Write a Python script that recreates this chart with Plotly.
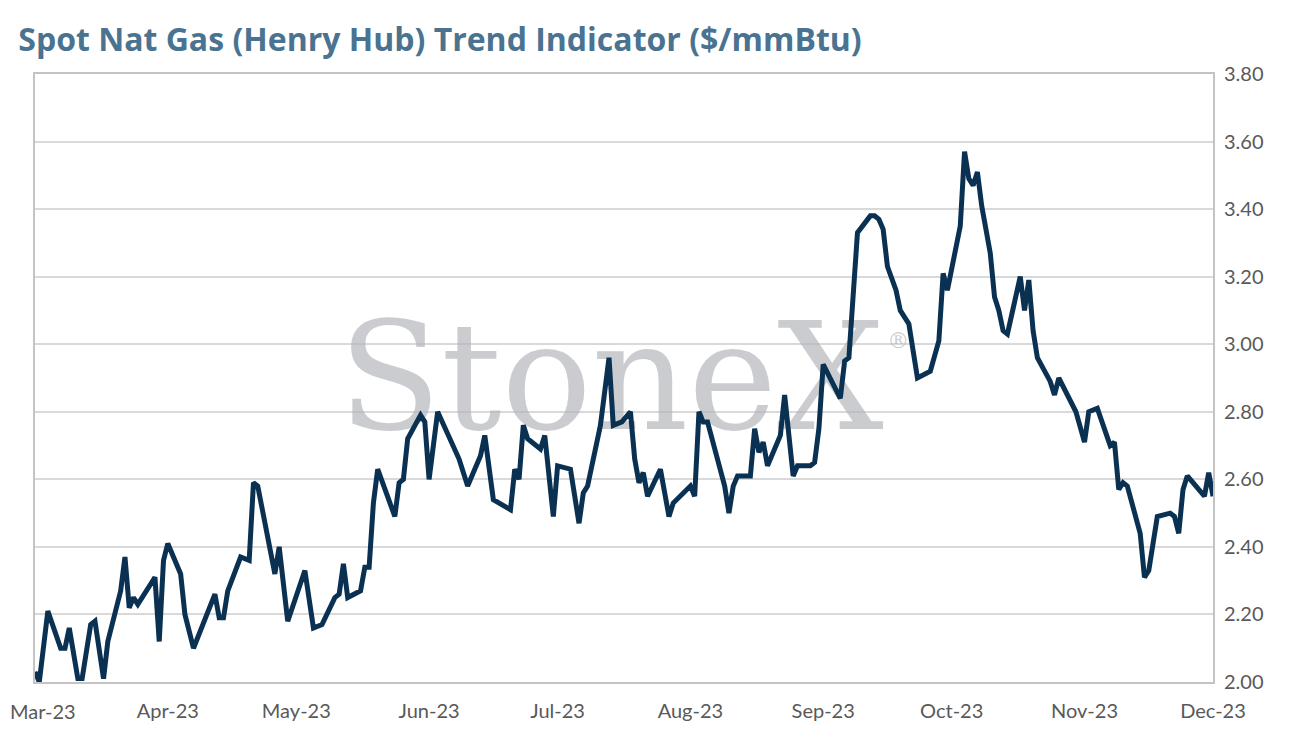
import plotly.graph_objects as go

# Henry Hub spot price
dates = [
    "2023-03-01", "2023-03-02", "2023-03-04", "2023-03-07", "2023-03-08", "2023-03-09",
    "2023-03-11", "2023-03-12", "2023-03-14", "2023-03-15", "2023-03-17", "2023-03-18",
    "2023-03-21", "2023-03-22", "2023-03-23", "2023-03-24", "2023-03-25", "2023-03-27",
    "2023-03-29", "2023-03-30", "2023-03-31", "2023-04-01", "2023-04-04", "2023-04-05",
    "2023-04-07", "2023-04-12", "2023-04-13", "2023-04-14", "2023-04-15", "2023-04-18",
    "2023-04-20", "2023-04-21", "2023-04-22", "2023-04-26", "2023-04-27", "2023-04-29",
    "2023-05-03", "2023-05-05", "2023-05-07", "2023-05-10", "2023-05-11", "2023-05-12",
    "2023-05-13", "2023-05-16", "2023-05-17", "2023-05-18", "2023-05-19", "2023-05-20",
    "2023-05-24", "2023-05-25", "2023-05-26", "2023-05-27", "2023-05-30", "2023-05-31",
    "2023-06-01", "2023-06-03", "2023-06-08", "2023-06-10", "2023-06-13", "2023-06-14",
    "2023-06-16", "2023-06-20", "2023-06-21", "2023-06-22", "2023-06-23", "2023-06-24",
    "2023-06-27", "2023-06-28", "2023-06-30", "2023-07-01", "2023-07-04", "2023-07-06",
    "2023-07-07", "2023-07-08", "2023-07-11", "2023-07-13", "2023-07-14", "2023-07-16",
    "2023-07-18", "2023-07-19", "2023-07-20", "2023-07-21", "2023-07-22", "2023-07-25",
    "2023-07-27", "2023-07-28", "2023-07-31", "2023-08-01", "2023-08-02", "2023-08-03",
    "2023-08-04", "2023-08-05", "2023-08-09", "2023-08-10", "2023-08-11", "2023-08-12",
    "2023-08-15", "2023-08-16", "2023-08-17", "2023-08-18", "2023-08-19", "2023-08-22",
    "2023-08-23", "2023-08-25", "2023-08-26", "2023-08-29", "2023-08-30", "2023-08-31",
    "2023-09-01", "2023-09-05", "2023-09-06", "2023-09-07", "2023-09-09", "2023-09-12",
    "2023-09-13", "2023-09-14", "2023-09-15", "2023-09-16", "2023-09-18", "2023-09-19",
    "2023-09-21", "2023-09-23", "2023-09-26", "2023-09-28", "2023-09-29", "2023-09-30",
    "2023-10-03", "2023-10-04", "2023-10-05", "2023-10-06", "2023-10-07", "2023-10-08",
    "2023-10-10", "2023-10-11", "2023-10-12", "2023-10-13", "2023-10-14", "2023-10-17",
    "2023-10-18", "2023-10-19", "2023-10-20", "2023-10-21", "2023-10-24", "2023-10-25",
    "2023-10-26", "2023-10-30", "2023-11-01", "2023-11-02", "2023-11-04", "2023-11-07",
    "2023-11-08", "2023-11-09", "2023-11-10", "2023-11-11", "2023-11-14", "2023-11-15",
    "2023-11-16", "2023-11-18", "2023-11-21", "2023-11-22", "2023-11-23", "2023-11-24",
    "2023-11-25", "2023-11-29", "2023-11-30", "2023-12-01",
]
prices = [
    2.03, 2.00, 2.21, 2.10, 2.10, 2.16,
    2.01, 2.01, 2.17, 2.18, 2.01, 2.12,
    2.27, 2.37, 2.22, 2.25, 2.23, 2.27,
    2.31, 2.12, 2.36, 2.41, 2.32, 2.20,
    2.10, 2.26, 2.19, 2.19, 2.27, 2.37,
    2.36, 2.59, 2.58, 2.32, 2.40, 2.18,
    2.33, 2.16, 2.17, 2.25, 2.26, 2.35,
    2.25, 2.27, 2.34, 2.34, 2.53, 2.63,
    2.49, 2.59, 2.60, 2.72, 2.79, 2.77,
    2.60, 2.80, 2.66, 2.58, 2.67, 2.73,
    2.54, 2.51, 2.63, 2.60, 2.76, 2.72,
    2.69, 2.73, 2.49, 2.64, 2.63, 2.47,
    2.56, 2.58, 2.76, 2.96, 2.76, 2.77,
    2.80, 2.66, 2.59, 2.62, 2.55, 2.63,
    2.49, 2.53, 2.57, 2.58, 2.55, 2.80,
    2.77, 2.77, 2.58, 2.50, 2.58, 2.61,
    2.61, 2.75, 2.68, 2.71, 2.64, 2.73,
    2.85, 2.61, 2.64, 2.64, 2.65, 2.75,
    2.94, 2.84, 2.95, 2.96, 3.33, 3.38,
    3.38, 3.37, 3.34, 3.23, 3.16, 3.10,
    3.06, 2.90, 2.92, 3.01, 3.21, 3.16,
    3.35, 3.57, 3.49, 3.47, 3.51, 3.41,
    3.27, 3.14, 3.10, 3.04, 3.03, 3.20,
    3.10, 3.19, 3.04, 2.96, 2.89, 2.85,
    2.90, 2.80, 2.71, 2.80, 2.81, 2.70,
    2.71, 2.57, 2.59, 2.58, 2.44, 2.31,
    2.33, 2.49, 2.50, 2.49, 2.44, 2.57,
    2.61, 2.55, 2.62, 2.55,
]

tick_dates = ["2023-03-01", "2023-04-01", "2023-05-01", "2023-06-01", "2023-07-01",
              "2023-08-01", "2023-09-01", "2023-10-01", "2023-11-01", "2023-12-01"]
tick_labels = ["Mar-23", "Apr-23", "May-23", "Jun-23", "Jul-23",
               "Aug-23", "Sep-23", "Oct-23", "Nov-23", "Dec-23"]
y_ticks = [2.0, 2.2, 2.4, 2.6, 2.8, 3.0, 3.2, 3.4, 3.6, 3.8]

mark_color = "rgba(178,180,186,0.68)"
label_font = dict(family="Lato", size=20, color="#595959")

fig = go.Figure()

# watermark behind the line
fig.add_trace(go.Scatter(
    x=["2023-07-13 12:00"], y=[2.86], mode="text", text=["StoneX"],
    textfont=dict(family="DejaVu Serif", size=150, color=mark_color),
    hoverinfo="skip", showlegend=False,
))
fig.add_trace(go.Scatter(
    x=["2023-09-18 12:00"], y=[3.005], mode="text", text=["®"],
    textfont=dict(family="DejaVu Serif", size=22, color=mark_color),
    hoverinfo="skip", showlegend=False,
))

fig.add_trace(go.Scatter(
    x=dates, y=prices, mode="lines",
    line=dict(color="#0b3152", width=5),
    showlegend=False,
))

# page body adds 8px, so the figure is a bit smaller than the window
fig.update_layout(
    width=1282, height=733,
    margin=dict(l=27, r=77, t=66, b=59),
    paper_bgcolor="white", plot_bgcolor="white",
    title=dict(
        text="<b>Spot Nat Gas (Henry Hub) Trend Indicator ($/mmBtu)</b>",
        x=0.008, xanchor="left", y=0.956, yanchor="middle",
        font=dict(family="Open Sans", size=32, color="#4a7391"),
    ),
    font=label_font,
)

# first month label would fall off the left edge, so it sits at the paper edge
fig.add_annotation(
    text=tick_labels[0], xref="paper", yref="paper", x=0, y=0,
    xanchor="left", yanchor="top", yshift=-15, xshift=-27,
    showarrow=False, font=label_font,
)

fig.update_xaxes(
    type="date", range=["2023-03-01", "2023-12-01"],
    tickvals=tick_dates, ticktext=[""] + tick_labels[1:],
    showgrid=False, showline=True, linecolor="#c4c4c4", linewidth=2, mirror=True,
    ticks="", ticklabelstandoff=10, automargin=False,
)
fig.update_yaxes(
    range=[2.0, 3.8], side="right", tickvals=y_ticks, tickformat=".2f",
    showgrid=True, gridcolor="#d9d9d9", gridwidth=2,
    showline=True, linecolor="#c4c4c4", linewidth=2, mirror=True,
    ticks="", ticklabelstandoff=5, zeroline=False, automargin=False,
)

fig.write_html("out.html")
